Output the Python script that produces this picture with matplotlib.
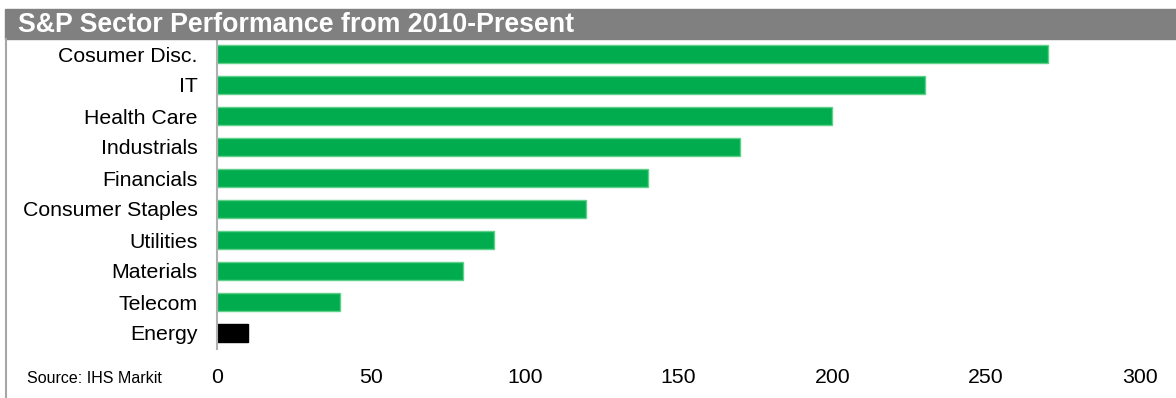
import matplotlib
matplotlib.use("Agg")
import matplotlib.pyplot as plt
from matplotlib.patches import Rectangle
from matplotlib.lines import Line2D

plt.rcParams['font.family'] = ['Liberation Sans', 'DejaVu Sans']

sectors = ["Cosumer Disc.", "IT", "Health Care", "Industrials", "Financials",
           "Consumer Staples", "Utilities", "Materials", "Telecom", "Energy"]
values = [270, 230, 200, 170, 140, 120, 90, 80, 40, 10]
colors = ["#00AC4E"] * 9 + ["#000000"]
edges = ["#5fd08a"] * 9 + ["#000000"]
xticks = [0, 50, 100, 150, 200, 250, 300]

W, H = 1176, 398
fig = plt.figure(figsize=(W / 100, H / 100), dpi=100)

# title bar
fig.patches.append(Rectangle((5 / W, 1 - 39 / H), 1 - 5 / W, 30 / H,
                             transform=fig.transFigure, color="#808080", zorder=0))
fig.text(18 / W, 1 - 24.5 / H, "S&P Sector Performance from 2010-Present",
         color="white", fontsize=19.3, fontweight="bold", va="center", ha="left")
# left border
fig.lines.append(Line2D([5.5 / W, 5.5 / W], [0, 1 - 39 / H], transform=fig.transFigure,
                        color="#a6a6a6", lw=1.5))

ax = fig.add_axes([217 / W, 1 - 348.5 / H, (1140 - 217) / W, (348.5 - 38.5) / H])
y = list(range(len(sectors)))
ax.barh(y, values, height=0.55, color=colors, edgecolor=edges, linewidth=1)
ax.set_ylim(len(sectors) - 0.5, -0.5)
ax.set_xlim(0, 300)
ax.set_yticks(y)
ax.set_yticklabels(sectors, fontsize=15.3)
ax.set_xticks(xticks)
ax.set_xticklabels([str(t) for t in xticks], fontsize=15.3)
ax.tick_params(axis='both', length=0)
ax.tick_params(axis='x', pad=14)
ax.tick_params(axis='y', pad=14)
for s in ["top", "right", "bottom"]:
    ax.spines[s].set_visible(False)
ax.spines["left"].set_color("#b0b0b0")
ax.spines["left"].set_linewidth(1.5)

fig.text(27 / W, 1 - 383 / H, "Source: IHS Markit", fontsize=11.5, ha="left", va="baseline")

fig.savefig("out.png", dpi=100)
